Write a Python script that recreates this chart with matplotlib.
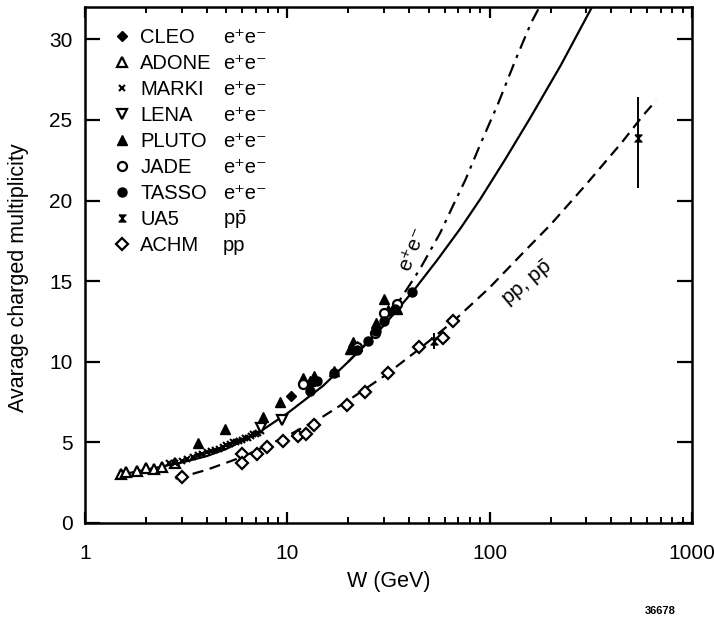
import matplotlib
matplotlib.use("Agg")
import matplotlib.pyplot as plt
from matplotlib.lines import Line2D
import numpy as np

plt.rcParams['font.family'] = ['Liberation Sans', 'DejaVu Sans']
plt.rcParams['mathtext.fontset'] = 'custom'
plt.rcParams['mathtext.rm'] = 'Liberation Sans'
plt.rcParams['mathtext.it'] = 'Liberation Sans:italic'

# ---------------- data ----------------
cleo_w = [10.4]
cleo_n = [7.9]

adone_w = [1.5, 1.6, 1.8, 2.0, 2.2, 2.4, 2.8]
adone_n = [3.05, 3.15, 3.25, 3.4, 3.35, 3.45, 3.7]

marki_w = [2.6, 2.8, 3.0, 3.2, 3.4, 3.6, 3.8, 4.0, 4.2, 4.4, 4.6, 4.8, 5.0,
           5.2, 5.4, 5.6, 5.8, 6.0, 6.2, 6.4, 6.6, 6.8, 7.0, 7.2, 7.4]
marki_n = [3.7, 3.75, 3.85, 3.95, 4.1, 4.2, 4.3, 4.4, 4.45, 4.55, 4.6, 4.7,
           4.85, 4.9, 5.0, 5.05, 5.1, 5.15, 5.25, 5.3, 5.4, 5.5, 5.5, 5.6, 5.7]

lena_w = [7.4, 9.4]
lena_n = [5.9, 6.4]

pluto_w = [3.6, 4.9, 7.6, 9.2, 12.0, 13.0, 13.5, 17.0, 20.5, 21.0, 22.0, 27.4, 30.0, 31.3, 35.0]
pluto_n = [4.95, 5.8, 6.6, 7.5, 9.0, 8.8, 9.1, 9.4, 10.8, 11.2, 11.0, 12.4, 13.9, 13.2, 13.3]

jade_w = [12.0, 22.0, 27.0, 30.0, 35.0]
jade_n = [8.6, 10.9, 11.8, 13.0, 13.6]

tasso_w = [13.0, 14.0, 17.0, 22.0, 25.0, 27.4, 30.0, 34.0, 41.5]
tasso_n = [8.2, 8.8, 9.3, 10.7, 11.3, 11.9, 12.5, 13.3, 14.3]

ua5_w = [53.0, 540.0]
ua5_n = [11.3, 23.9]
ua5_err_lo = [0.5, 3.1]
ua5_err_hi = [0.5, 2.5]

achm_w = [3.0, 6.0, 6.0, 7.1, 7.9, 9.5, 11.3, 12.3, 13.5, 19.7, 24.3, 31.3, 45.0, 59.0, 66.0]
achm_n = [2.85, 4.3, 3.7, 4.3, 4.7, 5.1, 5.4, 5.5, 6.1, 7.3, 8.1, 9.3, 10.9, 11.5, 12.5]

# curves
solid_w = [1.5, 2.0, 3.0, 4.0, 5.0, 7.0, 10.0, 15.0, 20.0, 30.0, 42.0, 55.0, 72.0, 90.0, 120.0, 160.0, 225.0, 330.0]
solid_n = [3.0, 3.3, 3.75, 4.15, 4.6, 5.5, 6.8, 8.5, 10.0, 12.25, 14.4, 16.3, 18.3, 20.1, 22.6, 25.2, 28.4, 32.3]

dashdot_w = [20.0, 25.0, 30.0, 35.0, 45.0, 57.0, 66.0, 76.0, 90.0, 110.0, 135.0, 160.0, 185.0]
dashdot_n = [10.0, 11.2, 12.4, 13.6, 15.7, 18.0, 19.7, 21.3, 23.5, 26.0, 28.8, 31.0, 32.5]

dashed_w = [2.8, 3.0, 4.0, 6.0, 10.0, 15.0, 20.0, 30.0, 45.0, 66.0, 100.0, 150.0, 200.0, 300.0, 450.0, 575.0, 665.0]
dashed_n = [2.75, 2.85, 3.3, 4.1, 5.4, 6.6, 7.6, 9.1, 10.8, 12.5, 14.6, 16.9, 18.5, 21.0, 23.6, 25.3, 26.2]

names = ['CLEO', 'ADONE', 'MARKI', 'LENA', 'PLUTO', 'JADE', 'TASSO', 'UA5', 'ACHM']
reactions = ['e⁺e⁻', 'e⁺e⁻', 'e⁺e⁻', 'e⁺e⁻', 'e⁺e⁻', 'e⁺e⁻', 'e⁺e⁻',
             r'p$\bar{\mathrm{p}}$', 'pp']

# ---------------- figure ----------------
fig = plt.figure(figsize=(7.14, 6.2), dpi=100)
ax = fig.add_axes([85/714, 1 - 523/620, (692-85)/714, (523-7)/620])
ax.set_xscale('log')
ax.set_xlim(1, 1000)
ax.set_ylim(0, 32)

lw = 1.6
ax.plot(solid_w, solid_n, '-', color='black', lw=lw, zorder=2)
ax.plot(dashdot_w, dashdot_n, color='black', lw=lw, dashes=(6, 3, 1.5, 3), zorder=2)
ax.plot(dashed_w, dashed_n, color='black', lw=lw, dashes=(5, 3), zorder=2)

ms = 6.5
hourglass = [(-1, 1), (1, 1), (-1, -1), (1, -1), (-1, 1)]
styles = [
    (cleo_w, cleo_n, dict(marker='D', mfc='black', mec='black', ms=5.5)),
    (adone_w, adone_n, dict(marker='^', mfc='white', mec='black', mew=1.6, ms=ms)),
    (marki_w, marki_n, dict(marker='x', mfc='black', mec='black', mew=1.5, ms=5)),
    (lena_w, lena_n, dict(marker='v', mfc='white', mec='black', mew=1.6, ms=ms)),
    (pluto_w, pluto_n, dict(marker='^', mfc='black', mec='black', ms=ms + 1)),
    (jade_w, jade_n, dict(marker='o', mfc='white', mec='black', mew=1.6, ms=ms)),
    (tasso_w, tasso_n, dict(marker='o', mfc='black', mec='black', ms=ms)),
]
handles = []
for w, n, st in styles:
    ax.plot(w, n, ls='none', zorder=3, **st)
    handles.append(Line2D([], [], ls='none', **st))

ua5_st = dict(marker=hourglass, mfc='black', mec='black', ms=5)
ax.errorbar(ua5_w, ua5_n, yerr=[ua5_err_lo, ua5_err_hi], fmt='none', ecolor='black',
            elinewidth=1.4, capsize=0, zorder=3)
ax.plot(ua5_w, ua5_n, ls='none', zorder=4, **ua5_st)
handles.append(Line2D([], [], ls='none', **ua5_st))

achm_st = dict(marker='D', mfc='white', mec='black', mew=1.6, ms=6)
ax.plot(achm_w, achm_n, ls='none', zorder=3, **achm_st)
handles.append(Line2D([], [], ls='none', **achm_st))

FS = 14.5
leg = ax.legend(handles, names, loc='upper left', bbox_to_anchor=(0.0478, 0.960),
                frameon=False, fontsize=FS, handlelength=0.8, handletextpad=0.5,
                labelspacing=0.35, borderaxespad=0, borderpad=0)

# curve labels
ax.text(41.5, 17.0, 'e⁺e⁻', rotation=68, fontsize=15, ha='center', va='center')
ax.text(154, 14.9, r'pp, p$\bar{\mathrm{p}}$', rotation=40, fontsize=15, ha='center', va='center')

# axes styling
for s in ax.spines.values():
    s.set_linewidth(1.8)
ax.set_yticks([0, 5, 10, 15, 20, 25, 30])
ax.set_xticks([1, 10, 100, 1000])
ax.set_xticklabels(['1', '10', '100', '1000'])
ax.tick_params(axis='y', which='major', direction='in', length=11, width=1.6,
               left=True, right=True, labelsize=15, pad=9)
ax.tick_params(axis='x', which='major', direction='in', length=8, width=1.6,
               top=True, bottom=True, labelsize=15, pad=15)
ax.tick_params(axis='x', which='minor', direction='in', length=4.5, width=1.4,
               top=True, bottom=True)
ax.set_xlabel('W (GeV)', fontsize=15.5, labelpad=6)
ax.set_ylabel('Avarage charged multiplicity', fontsize=15.5)
ax.yaxis.set_label_coords(-0.093, 0.475)

fig.text(660/714, 1 - 611/620, '36678', fontsize=8, fontweight='bold', ha='center', va='center')

# second legend column, aligned with legend rows
fig.canvas.draw()
for t, r in zip(leg.get_texts(), reactions):
    bb = t.get_window_extent()
    yc = 0.5 * (bb.y0 + bb.y1) / fig.bbox.height
    fig.text(223/714, yc, r, fontsize=FS, ha='left', va='center')

fig.savefig('out.png', dpi=100)
